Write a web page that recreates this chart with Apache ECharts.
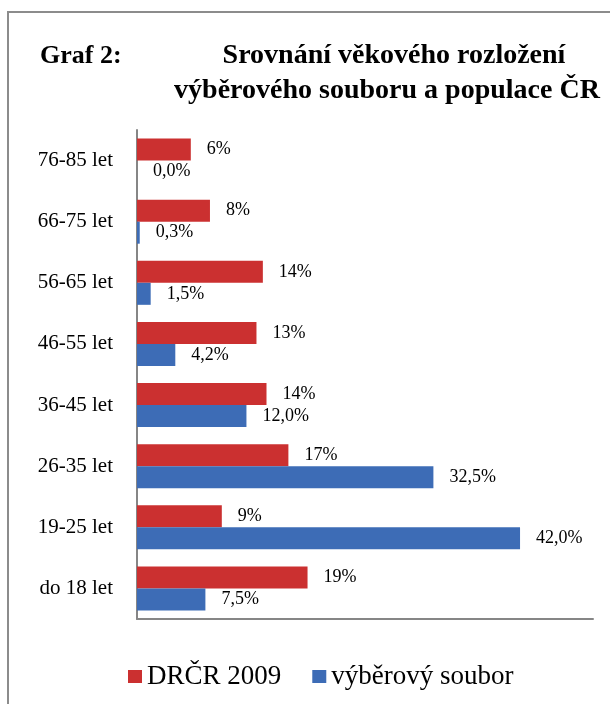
<!DOCTYPE html>
<html>
<head>
<meta charset="utf-8">
<style>
  html, body { margin: 0; padding: 0; background: #fff; }
  #chart { width: 610px; height: 704px; }
</style>
<script src="https://cdn.jsdelivr.net/npm/echarts@6/dist/echarts.min.js"></script>
</head>
<body>
<div id="chart"></div>
<script>
// categories, bottom to top (category axis starts at the bottom)
var ageGroups = ['do 18 let', '19-25 let', '26-35 let', '36-45 let', '46-55 let', '56-65 let', '66-75 let', '76-85 let'];
// DRČR 2009 (population)
var populace = [18.7, 9.3, 16.6, 14.2, 13.1, 13.8, 8.0, 5.9];
// výběrový soubor (sample)
var vzorek = [7.5, 42.0, 32.5, 12.0, 4.2, 1.5, 0.3, 0.0];

var seriesNames = ['DRČR 2009', 'výběrový soubor'];
var serif = '"Liberation Serif", "DejaVu Serif", serif';

var chart = echarts.init(document.getElementById('chart'));

var labelStyle = {
    show: true,
    position: 'right',
    distance: 16,
    color: '#000',
    fontFamily: serif,
    fontSize: 18
};

chart.setOption({
    animation: false,
    backgroundColor: '#fff',
    graphic: [
        {
            type: 'rect',
            shape: { x: 8, y: 12, width: 700, height: 800 },
            style: { fill: 'none', stroke: '#8c8c8c', lineWidth: 2 },
            silent: true
        },
        {
            type: 'text',
            style: { text: 'Graf 2:', x: 40, y: 56, textAlign: 'left', textVerticalAlign: 'middle',
                font: 'bold 26px ' + serif, fill: '#000' }
        },
        {
            type: 'text',
            style: { text: 'Srovnání věkového rozložení', x: 394, y: 56, textAlign: 'center', textVerticalAlign: 'middle',
                font: 'bold 28px ' + serif, fill: '#000' }
        },
        {
            type: 'text',
            style: { text: 'výběrového souboru a populace ČR', x: 387, y: 91, textAlign: 'center', textVerticalAlign: 'middle',
                font: 'bold 28px ' + serif, fill: '#000' }
        }
    ],
    legend: {
        data: seriesNames,
        left: 123,
        top: 658,
        itemWidth: 14,
        itemHeight: 13,
        itemGap: 31,
        icon: 'rect',
        textStyle: { fontFamily: serif, fontSize: 27, color: '#000' }
    },
    grid: { left: 137, right: 17, top: 130, bottom: 85, containLabel: false },
    xAxis: {
        type: 'value',
        min: 0,
        max: 50,
        axisLine: { show: true, lineStyle: { color: '#868686', width: 2 } },
        axisTick: { show: false },
        axisLabel: { show: false },
        splitLine: { show: false }
    },
    yAxis: {
        type: 'category',
        data: ageGroups,
        axisLine: { show: true, lineStyle: { color: '#868686', width: 2 } },
        axisTick: { show: false },
        axisLabel: { color: '#000', fontFamily: serif, fontSize: 21, margin: 24 }
    },
    series: [
        {
            name: seriesNames[0],
            type: 'bar',
            data: populace,
            barGap: '0%',
            barCategoryGap: '28%',
            itemStyle: { color: '#CB3030' },
            label: Object.assign({}, labelStyle, {
                formatter: function (p) { return Math.round(p.value) + '%'; }
            })
        },
        {
            name: seriesNames[1],
            type: 'bar',
            data: vzorek,
            barGap: '0%',
            barCategoryGap: '28%',
            itemStyle: { color: '#3D6CB6' },
            label: Object.assign({}, labelStyle, {
                formatter: function (p) { return p.value.toFixed(1).replace('.', ',') + '%'; }
            })
        }
    ]
});
</script>
</body>
</html>
